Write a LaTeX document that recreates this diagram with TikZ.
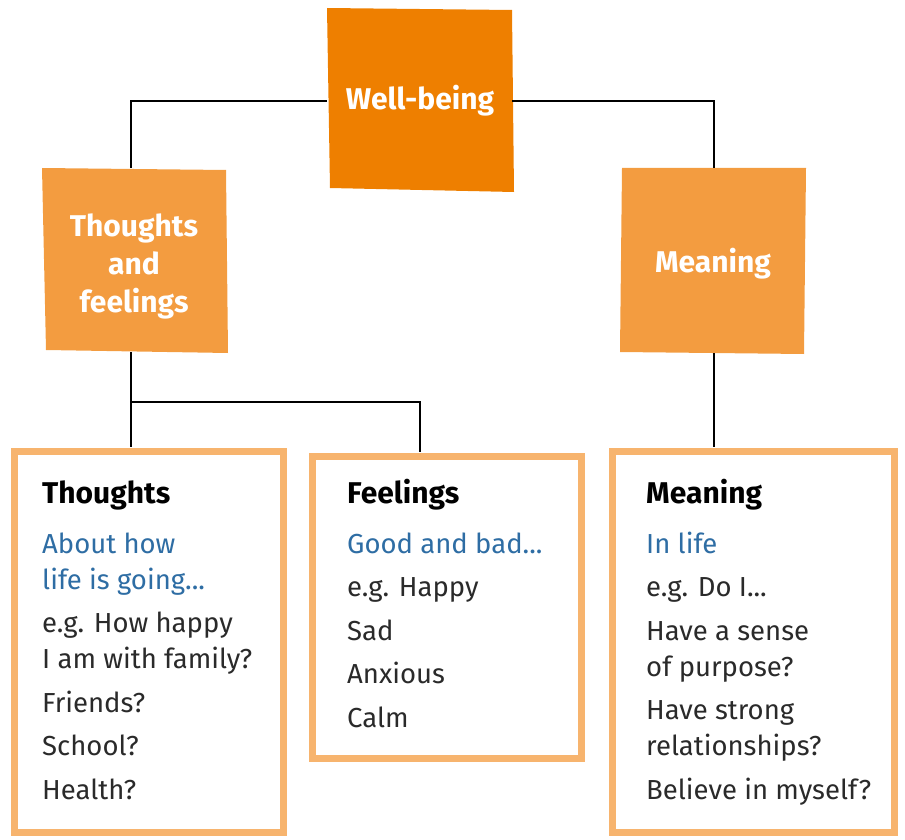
\documentclass[tikz,border=0pt]{standalone}
\usepackage{fontspec}
\setmainfont{Fira Sans}
\definecolor{topor}{HTML}{EE7F00}
\definecolor{midor}{HTML}{F39C40}
\definecolor{bordor}{HTML}{F7B46E}
\definecolor{bluetxt}{HTML}{2E6DA4}
\definecolor{bodytxt}{HTML}{2A2A2A}
\tikzset{
  x=1pt,y=-1pt,
  topbox/.style={fill=topor, draw=none},
  midbox/.style={fill=midor, draw=none},
  listbox/.style={draw=bordor, line width=7pt, fill=white},
  boxlabel/.style={text=white, font=\bfseries\fontsize{30}{38}\selectfont, align=center},
  heading/.style={anchor=base west, inner sep=0, text=black, font=\bfseries\fontsize{30}{32}\selectfont},
  subline/.style={anchor=base west, inner sep=0, text=bluetxt, font=\fontsize{27.5}{32}\selectfont},
  bodyline/.style={anchor=base west, inner sep=0, text=bodytxt, font=\fontsize{27.5}{32}\selectfont},
  link/.style={draw=black, line width=1.3pt},
}
\begin{document}
\begin{tikzpicture}
\useasboundingbox (0,0) rectangle (905,840);
% top box
\fill[topbox] (327,8) -- (512,10) -- (514,192) -- (330,188) -- cycle;
\node[boxlabel] (wb) at (420,101) {Well-being};
\coordinate (wbL) at (327,101);
\coordinate (wbR) at (512,101);
% middle boxes
\fill[midbox] (42,168) -- (226,170) -- (228,353) -- (46,350) -- cycle;
\node[boxlabel] (tf) at (134,266) {Thoughts\\and\\feelings};
\coordinate (tfT) at (131,168);
\coordinate (tfB) at (131,352);
\fill[midbox] (622,168) -- (806,168) -- (804,354) -- (620,352) -- cycle;
\node[boxlabel] (mn) at (713,264) {Meaning};
\coordinate (mnT) at (714,168);
\coordinate (mnB) at (714,353);
% bottom boxes
\draw[listbox] (14,451) rectangle (283,832);
\draw[listbox] (312,456) rectangle (581,758);
\draw[listbox] (612,451) rectangle (894,832);
\coordinate (thT) at (131,447);
\coordinate (feT) at (420,452);
\coordinate (meT) at (714,447);
% connectors
\draw[link] (wbL) -| (tfT);
\draw[link] (wbR) -| (mnT);
\draw[link] (tfB) -- (thT);
\coordinate (br) at (131,402);
\draw[link] (br) -| (feT);
\draw[link] (mnB) -- (meT);
% Thoughts text
\node[heading]  (t0) at (42,503) {Thoughts};
\node[subline]  (t1) at (42,553) {About how};
\node[subline]  (t2) at (42,589) {life is going...};
\node[bodyline] (t3) at (42,632) {e.g. How happy};
\node[bodyline] (t4) at (42,668) {I am with family?};
\node[bodyline] (t5) at (42,712) {Friends?};
\node[bodyline] (t6) at (42,755) {School?};
\node[bodyline] (t7) at (42,799) {Health?};
% Feelings text
\node[heading]  (f0) at (347,503) {Feelings};
\node[subline]  (f1) at (347,553) {Good and bad...};
\node[bodyline] (f2) at (347,596) {e.g. Happy};
\node[bodyline] (f3) at (347,640) {Sad};
\node[bodyline] (f4) at (347,683) {Anxious};
\node[bodyline] (f5) at (347,727) {Calm};
% Meaning text
\node[heading]  (m0) at (646,503) {Meaning};
\node[subline]  (m1) at (646,553) {In life};
\node[bodyline] (m2) at (646,596) {e.g. Do I...};
\node[bodyline] (m3) at (646,640) {Have a sense};
\node[bodyline] (m4) at (646,676) {of purpose?};
\node[bodyline] (m5) at (646,719) {Have strong};
\node[bodyline] (m6) at (646,755) {relationships?};
\node[bodyline] (m7) at (646,799) {Believe in myself?};
\end{tikzpicture}
\end{document}
